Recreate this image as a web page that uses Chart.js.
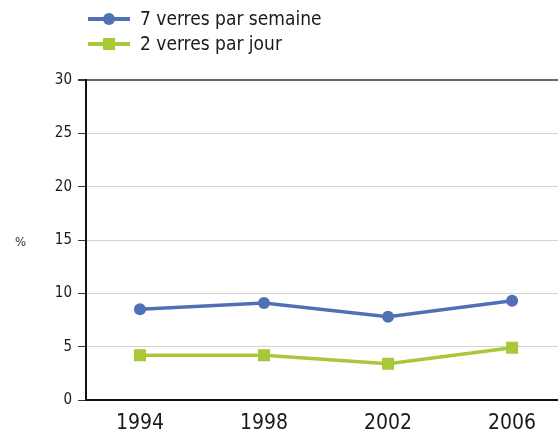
<!DOCTYPE html>
<html lang="fr">
<head>
  <meta charset="UTF-8">
  <title>Consommation d'alcool</title>
  <script src="https://cdn.jsdelivr.net/npm/chart.js"></script>
  <style>
    html, body { margin: 0; padding: 0; background: #ffffff; }
    #wrap { width: 558px; height: 439px; position: relative; }
  </style>
</head>
<body>
  <div id="wrap"><canvas id="chart"></canvas></div>

  <script>
    // Données
    const annees = [1994, 1998, 2002, 2006];
    const seriesNoms = ['7 verres par semaine', '2 verres par jour'];
    const septVerres = [8.5, 9.1, 7.8, 9.3];
    const deuxVerres = [4.2, 4.2, 3.4, 4.9];
    const yTicks = [0, 5, 10, 15, 20, 25, 30];

    const bleu = '#5070b6';
    const vert = '#a8c83a';
    const police = "'Liberation Sans Narrow', 'DejaVu Sans Condensed', 'Open Sans', sans-serif";

    // Légende et titre d'axe dessinés à la main
    const legendePlugin = {
      id: 'legende',
      afterDraw(chart) {
        const ctx = chart.ctx;
        ctx.save();
        chart.data.datasets.forEach((ds, i) => {
          const y = 19 + i * 25;
          ctx.strokeStyle = ds.borderColor;
          ctx.lineWidth = 4;
          ctx.beginPath();
          ctx.moveTo(88, y);
          ctx.lineTo(130, y);
          ctx.stroke();
          ctx.fillStyle = ds.borderColor;
          if (ds.pointStyle === 'rect') {
            ctx.fillRect(103, y - 6, 12, 12);
          } else {
            ctx.beginPath();
            ctx.arc(109, y, 6, 0, Math.PI * 2);
            ctx.fill();
          }
          ctx.fillStyle = '#1a1a1a';
          ctx.font = '19px ' + police;
          ctx.textBaseline = 'middle';
          ctx.fillText(ds.label, 140, y + 1);
        });
        ctx.font = '13px ' + police;
        ctx.fillStyle = '#333';
        ctx.textBaseline = 'middle';
        ctx.fillText('%', 15, 243);
        ctx.restore();
      }
    };

    new Chart(document.getElementById('chart'), {
      type: 'line',
      data: {
        datasets: [
          {
            label: seriesNoms[0],
            data: annees.map((a, i) => ({ x: a, y: septVerres[i] })),
            borderColor: bleu,
            backgroundColor: bleu,
            borderWidth: 3.5,
            pointStyle: 'circle',
            pointRadius: 6,
            pointBorderWidth: 0,
            tension: 0
          },
          {
            label: seriesNoms[1],
            data: annees.map((a, i) => ({ x: a, y: deuxVerres[i] })),
            borderColor: vert,
            backgroundColor: vert,
            borderWidth: 3.5,
            pointStyle: 'rect',
            pointRadius: 8.5,
            pointBorderWidth: 0,
            tension: 0
          }
        ]
      },
      options: {
        responsive: true,
        maintainAspectRatio: false,
        animation: false,
        layout: { autoPadding: false, padding: { top: 80, right: 0, left: 0, bottom: 0 } },
        plugins: {
          legend: { display: false },
          tooltip: { enabled: false }
        },
        scales: {
          x: {
            type: 'linear',
            min: 1992.26,
            max: 2007.48,
            afterBuildTicks: (s) => { s.ticks = annees.map(v => ({ value: v })); },
            afterFit: (s) => { s.height = 39; s.paddingLeft = 0; s.paddingRight = 0; },
            grid: { display: false, drawTicks: false },
            border: { color: '#111', width: 2 },
            ticks: {
              color: '#1a1a1a',
              font: { family: police, size: 21 },
              padding: 11,
              maxRotation: 0,
              callback: (v) => String(v)
            }
          },
          y: {
            min: 0,
            max: 30,
            afterBuildTicks: (s) => { s.ticks = yTicks.map(v => ({ value: v })); },
            afterFit: (s) => { s.width = 86; },
            border: { color: '#111', width: 2 },
            grid: {
              color: (c) => c.tick && c.tick.value === 30 ? '#6a6a6a' : '#d4d4d4',
              lineWidth: (c) => c.tick && c.tick.value === 30 ? 2 : 1,
              tickColor: '#333',
              tickLength: 8
            },
            ticks: {
              color: '#1a1a1a',
              font: { family: police, size: 15 },
              padding: 6
            }
          }
        }
      },
      plugins: [legendePlugin]
    });
  </script>
</body>
</html>
